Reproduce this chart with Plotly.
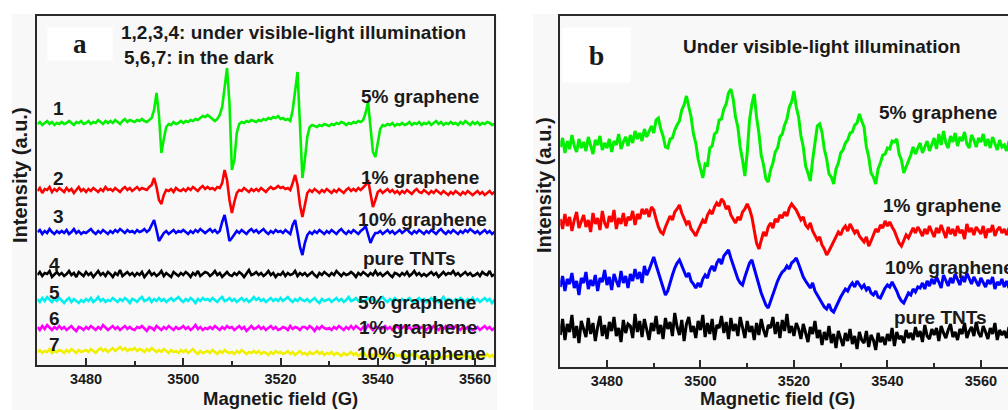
import plotly.graph_objects as go

# ---------------- data (EPR spectra, intensity in a.u.) ----------------
FIELD_START = 3470.0   # G
FIELD_STEP = 0.5       # G per sample

# Panel a  (1-4 under visible light, 5-7 in the dark)
a1_green_5pct = [
    241,243,240,242,244,241,243,240,242,241,
    243,241,242,244,242,240,243,242,244,241,
    242,244,241,243,242,245,243,241,244,242,
    244,242,245,243,241,244,246,243,245,244,
    243,245,244,246,244,243,245,247,255,272,
    250,212,226,238,241,240,243,241,242,244,
    242,244,243,245,244,246,245,247,249,248,
    250,248,246,244,246,250,258,275,297,262,
    195,205,232,241,243,242,244,243,245,244,
    243,245,244,246,245,247,246,248,247,249,
    246,247,245,246,244,255,275,293,240,187,
    205,228,238,240,239,238,240,239,241,240,
    239,241,240,242,241,243,242,240,242,241,
    243,242,244,243,245,252,263,238,213,208,
    222,236,240,239,241,240,242,239,241,240,
    242,240,241,243,240,242,241,243,240,242,
    241,243,240,242,244,241,243,240,242,241,
    243,241,242,240,243,241,244,242,240,243,
    241,243,240,242,241,243,242,240,241,243,
    242,240,243,241,242,240,241,243,242,240,
]
a2_red_1pct = [
    174,177,172,176,175,178,173,176,174,177,
    175,173,177,174,176,172,175,178,174,176,
    173,176,174,177,175,173,176,174,178,175,
    176,174,177,175,173,176,178,175,177,174,
    176,178,175,177,176,175,178,180,187,178,
    165,161,170,175,174,176,173,177,175,174,
    176,174,177,175,178,176,174,177,179,176,
    178,176,177,175,178,177,182,195,185,165,
    152,163,172,175,174,177,175,173,176,174,
    176,174,177,175,173,176,178,176,177,179,
    177,178,176,177,175,182,190,180,160,148,
    160,172,175,173,176,174,172,175,173,176,
    174,172,175,173,176,174,172,175,177,174,
    176,174,177,175,178,180,185,172,158,165,
    173,175,172,174,176,173,175,172,174,171,
    174,172,175,173,171,174,176,173,172,175,
    173,171,174,172,175,173,171,174,172,170,
    173,171,174,172,170,173,171,174,172,170,
    172,174,171,173,170,172,174,171,173,170,
    172,170,173,171,174,172,170,173,171,172,
]
a3_blue_10pct = [
    133,135,131,134,132,136,133,131,134,132,
    134,132,135,131,133,136,132,134,131,133,
    132,134,136,133,131,134,132,135,133,131,
    134,132,135,133,136,134,132,135,133,134,
    132,135,133,134,136,133,135,140,145,135,
    124,128,132,134,131,133,135,132,134,133,
    135,133,131,134,132,135,133,136,134,132,
    134,136,133,135,132,134,143,150,138,124,
    127,131,134,132,135,133,131,134,136,133,
    135,132,134,136,133,131,134,132,135,133,
    134,132,135,133,131,140,145,132,118,110,
    122,130,133,131,134,132,135,133,131,134,
    132,135,133,131,134,136,133,131,134,132,
    135,133,131,134,136,139,131,122,128,132,
    132,134,131,133,135,132,134,131,133,135,
    132,134,136,133,131,134,132,135,133,131,
    134,132,135,133,131,134,136,133,131,134,
    132,135,133,131,134,132,135,133,136,134,
    132,134,131,133,135,132,134,131,133,132,
    134,132,135,133,131,134,132,133,135,132,
]
a4_black_pure = [
    90,93,89,92,91,94,88,91,93,90,
    92,89,91,94,90,92,88,93,91,89,
    93,90,92,88,91,94,90,92,89,93,
    91,88,92,90,95,89,91,93,90,92,
    89,92,90,93,88,91,94,90,92,89,
    91,94,89,92,90,88,93,91,89,92,
    90,93,91,88,92,90,94,89,91,93,
    92,89,91,94,90,92,88,91,93,90,
    89,92,90,93,91,88,92,95,90,91,
    93,90,92,89,91,94,90,92,88,91,
    90,93,89,92,90,91,94,89,92,90,
    92,89,91,93,90,88,92,90,93,91,
    89,92,90,94,91,89,92,90,91,93,
    91,88,92,90,93,91,89,92,90,94,
    90,92,89,91,93,90,88,92,91,89,
    92,90,93,89,91,94,90,92,89,91,
    89,91,93,90,92,88,91,93,90,92,
    91,94,90,92,89,91,93,90,92,89,
    90,92,89,93,91,90,94,89,91,92,
    91,89,92,90,93,91,89,92,90,91,
]
a5_cyan_5pct_dark = [
    66,63,67,64,68,65,63,66,64,67,
    64,62,65,67,63,66,64,62,65,63,
    66,64,67,63,65,68,64,66,63,65,
    64,67,65,63,66,64,67,65,62,66,
    65,63,66,68,64,65,67,63,66,64,
    67,64,66,63,65,67,64,66,68,65,
    63,66,64,67,65,62,66,64,67,65,
    66,64,67,65,63,66,68,64,65,67,
    64,66,63,65,67,64,66,63,65,68,
    65,67,64,66,63,65,67,64,66,64,
    67,64,66,68,65,63,66,64,67,65,
    64,66,63,65,67,64,62,66,64,65,
    66,63,65,67,64,66,63,65,68,64,
    65,67,64,66,63,65,67,64,66,63,
    64,66,68,65,63,66,64,67,65,63,
    66,64,65,67,64,62,65,67,64,66,
    63,65,67,64,66,63,65,68,64,66,
    65,63,66,64,67,65,63,66,64,67,
    64,66,63,65,67,64,66,62,65,63,
    66,64,67,63,65,67,64,66,63,65,
]
a6_magenta_1pct_dark = [
    38,35,39,36,40,37,35,38,36,39,
    36,38,35,37,39,36,34,38,37,35,
    38,36,39,37,35,38,36,40,37,35,
    37,39,36,38,35,37,39,36,38,36,
    35,38,37,39,36,34,38,37,35,39,
    37,35,38,36,39,37,35,38,36,37,
    39,36,38,35,37,40,36,38,35,37,
    36,38,36,39,37,35,38,36,39,37,
    38,35,37,39,36,38,34,37,39,36,
    37,39,36,38,35,37,39,36,38,35,
    36,38,37,35,39,36,38,37,35,38,
    38,36,39,37,34,38,36,39,37,36,
    37,35,38,36,39,37,35,38,36,39,
    36,39,37,35,38,36,40,37,35,38,
    38,36,37,39,36,38,35,37,39,36,
    37,39,36,38,35,37,39,36,38,37,
    35,38,36,39,37,35,38,36,39,37,
    38,36,39,37,35,38,36,38,37,35,
    36,38,35,37,39,36,38,35,37,36,
    37,35,38,36,39,37,35,38,36,37,
]
a7_yellow_10pct_dark = [
    13,15,12,14,13,16,12,14,13,15,
    14,12,15,13,16,14,12,15,13,14,
    15,13,16,14,12,15,17,14,16,13,
    15,17,14,16,18,15,17,14,16,15,
    17,14,16,15,13,16,14,17,15,13,
    15,13,16,14,12,15,13,14,12,15,
    13,15,12,14,16,13,11,14,12,13,
    14,12,15,13,11,14,12,15,13,12,
    13,11,14,12,15,13,11,13,12,14,
    12,14,11,13,12,10,13,11,14,12,
    13,11,12,14,11,13,10,12,14,11,
    12,10,13,11,12,14,11,13,10,12,
    11,13,10,12,11,9,12,10,11,13,
    10,12,9,11,13,10,8,11,9,12,
    10,8,11,9,7,10,8,11,9,10,
    8,10,7,9,11,8,10,7,9,8,
    9,7,10,8,11,9,7,10,8,9,
    8,10,9,7,10,8,11,9,7,10,
    9,7,10,8,9,11,8,10,7,9,
    8,10,9,11,8,10,7,9,8,10,
]

# Panel b  (under visible light)
b1_green_5pct = [
    220,229,214,226,218,232,221,215,228,219,
    225,216,230,220,213,227,222,231,217,224,
    219,228,215,226,222,233,218,225,230,221,
    232,224,236,228,234,226,238,230,236,241,
    234,247,249,238,231,220,219,228,229,237,
    242,246,257,262,271,259,250,233,224,208,
    198,189,203,202,219,221,233,235,247,248,
    258,263,274,278,268,250,240,220,207,191,
    214,247,263,273,250,234,212,202,188,185,
    197,204,215,219,230,233,242,248,260,265,
    276,260,250,231,220,201,194,186,207,226,
    241,243,235,218,208,193,190,183,198,204,
    214,217,224,227,234,235,242,244,253,246,
    240,220,210,194,190,183,198,204,212,213,
    219,218,226,225,228,213,207,194,200,205,
    212,220,213,219,224,214,221,226,216,223,
    229,218,233,222,236,224,219,231,225,234,
    221,230,226,235,223,219,232,227,220,229,
    225,233,221,228,219,230,224,217,227,220,
    222,216,226,219,224,218,223,220,225,221,
]
b2_red_1pct = [
    148,138,153,141,150,136,147,155,139,146,
    152,140,147,135,154,143,149,137,156,144,
    139,151,145,157,138,149,143,154,141,150,
    147,156,142,153,148,158,153,158,150,160,
    157,148,140,135,133,140,146,151,147,155,
    158,162,154,149,143,146,138,135,131,137,
    142,147,144,152,156,153,160,164,161,168,
    165,158,161,152,148,144,150,147,155,158,
    163,158,150,138,124,118,128,135,131,140,
    144,139,148,145,152,149,155,151,159,163,
    160,157,152,147,150,142,139,144,136,131,
    127,130,122,118,112,116,121,126,130,135,
    132,138,141,136,143,139,134,137,131,128,
    125,130,121,126,133,138,135,142,139,146,
    141,145,140,136,130,124,121,127,132,129,
    135,139,134,140,136,131,138,133,141,135,
    130,139,134,142,136,129,140,133,138,131,
    141,134,137,128,143,135,139,132,140,136,
    133,141,129,138,135,142,131,137,140,134,
    138,132,139,135,131,137,134,140,133,136,
]
b3_blue_10pct = [
    80,91,76,88,83,94,79,86,72,89,
    84,95,78,87,81,92,76,89,85,97,
    82,90,77,93,86,80,96,84,91,79,
    93,86,98,88,95,84,101,92,97,104,
    110,102,94,86,78,72,76,85,92,99,
    104,107,101,96,90,94,86,83,79,84,
    80,88,92,89,97,101,96,104,108,103,
    111,114,117,109,102,94,88,84,82,90,
    98,104,107,99,90,81,74,68,62,59,
    66,74,80,86,91,95,97,101,98,104,
    106,109,103,96,90,86,82,79,84,76,
    72,68,64,60,58,63,57,55,60,66,
    70,74,78,76,81,84,80,86,83,79,
    82,77,80,74,72,76,70,69,74,79,
    82,80,85,81,76,70,66,64,70,74,
    72,78,75,80,79,84,78,86,81,88,
    83,90,85,79,92,86,81,89,84,93,
    87,82,91,85,94,88,83,90,86,81,
    89,84,80,87,83,90,78,85,82,88,
    80,86,79,84,88,81,85,79,83,86,
]
b4_black_pure = [
    32,48,27,43,35,52,29,41,24,46,
    38,30,49,33,44,26,40,51,31,42,
    28,45,36,50,31,39,25,47,34,43,
    41,29,53,35,46,30,48,37,27,44,
    36,51,33,42,28,49,38,45,31,54,
    40,32,47,26,43,50,35,41,29,46,
    37,52,30,44,33,48,27,42,39,51,
    34,45,28,49,36,43,31,50,38,29,
    46,35,41,27,44,32,48,37,30,42,
    39,50,33,45,29,47,36,53,34,41,
    31,44,38,28,43,35,25,40,33,46,
    29,37,22,35,27,41,24,33,19,36,
    28,21,34,26,38,23,31,18,35,27,
    24,36,20,32,27,17,34,25,30,22,
    33,26,39,21,35,28,31,24,37,29,
    34,27,40,30,36,25,42,31,28,38,
    32,39,26,41,34,29,37,43,30,35,
    27,38,33,44,29,36,40,31,45,34,
    30,41,35,28,39,33,44,27,37,32,
    36,29,40,34,31,38,33,42,30,35,
]

A_TRACES = [
    (a1_green_5pct, "#00f000"), (a2_red_1pct, "#ff0000"), (a3_blue_10pct, "#0000ff"),
    (a4_black_pure, "#000000"), (a5_cyan_5pct_dark, "#00f0f0"),
    (a6_magenta_1pct_dark, "#ff00ff"), (a7_yellow_10pct_dark, "#f0f000"),
]
B_TRACES = [
    (b1_green_5pct, "#00f000"), (b2_red_1pct, "#ff0000"),
    (b3_blue_10pct, "#0000ff"), (b4_black_pure, "#000000"),
]
TICK_VALS = [3480, 3500, 3520, 3540, 3560]
TICK_TEXT = ["3480", "3500", "3520", "3540", "3560"]


def field(vals):
    return [FIELD_START + FIELD_STEP * i for i in range(len(vals))]


# ---------------- figure ----------------
W, H = 1008, 410
FONT = "Liberation Sans, Arial, sans-serif"
fig = go.Figure()

for vals, col in A_TRACES:
    fig.add_trace(go.Scatter(x=field(vals), y=vals, mode="lines", xaxis="x", yaxis="y",
                             line=dict(color=col, width=2.6), showlegend=False, hoverinfo="skip"))
for vals, col in B_TRACES:
    fig.add_trace(go.Scatter(x=field(vals), y=vals, mode="lines", xaxis="x2", yaxis="y2",
                             line=dict(color=col, width=3), showlegend=False, hoverinfo="skip"))


def px(x):
    return x / W


def py(y):
    return 1 - y / H


axis_common = dict(showgrid=False, zeroline=False, linecolor="#2a2a2a", linewidth=1.5)
xcommon = dict(axis_common, ticks="inside", ticklen=7, tickwidth=1.5, tickcolor="#2a2a2a",
               tickvals=TICK_VALS, ticktext=TICK_TEXT, showline=True, mirror=True,
               tickfont=dict(family=FONT, size=14.5, color="#1a1a1a", weight="bold"),
               minor=dict(tickvals=[3490, 3510, 3530, 3550], ticks="inside", ticklen=4,
                          tickwidth=1.5, tickcolor="#2a2a2a"))

fig.update_layout(
    width=W, height=H, margin=dict(l=0, r=0, t=0, b=0),
    paper_bgcolor="#ffffff", plot_bgcolor="#f8f8f8",
    xaxis=dict(xcommon, domain=[px(37.4), px(494)], range=[3470, 3563.9], anchor="y"),
    yaxis=dict(axis_common, domain=[py(365), py(16)], range=[0, 349], showline=True,
               mirror=True, showticklabels=False, ticks="", anchor="x"),
    xaxis2=dict(xcommon, domain=[px(560.25), 1.0], range=[3470, 3565.8], anchor="y2"),
    yaxis2=dict(axis_common, domain=[py(367), py(16)], range=[0, 351], showline=True,
                mirror=False, showticklabels=False, ticks="", anchor="x2"),
    shapes=[
        dict(type="rect", xref="paper", yref="paper", x0=px(12), x1=px(497), y0=0, y1=py(14),
             fillcolor="#f8f8f8", line=dict(width=0), layer="below"),
        dict(type="rect", xref="paper", yref="paper", x0=px(533), x1=1.0, y0=0, y1=py(14),
             fillcolor="#f8f8f8", line=dict(width=0), layer="below"),
    ],
)

ann = []


def text(x, y, s, size=19, anchor="left", angle=0, family=FONT, **kw):
    ann.append(dict(x=px(x), y=py(y), xref="paper", yref="paper", text=s, showarrow=False,
                    xanchor=anchor, yanchor="middle", textangle=angle,
                    font=dict(family=family, size=size, color="#1a1a1a", weight="bold"), **kw))


# panel letters in white boxes
text(80, 44, "a", size=27, anchor="center", family="Liberation Serif, Times New Roman, serif",
     bgcolor="#ffffff", width=64, height=32, borderpad=0)
text(596, 55, "b", size=28, anchor="center", family="Liberation Serif, Times New Roman, serif",
     bgcolor="#ffffff", width=67, height=54, borderpad=0)

# panel a texts
text(119, 33, "1,2,3,4: under visible-light illumination")
text(122, 57, "5,6,7: in the dark")
for lbl, (xx, yy) in zip(["1", "2", "3", "4", "5", "6", "7"],
                         [(51, 108), (51, 179), (51, 216), (47, 264), (47, 292), (47, 318), (47, 344)]):
    text(xx, yy, lbl, size=19)
for lbl, (xx, yy) in zip(["5% graphene", "1% graphene", "10% graphene", "pure TNTs",
                          "5% graphene", "1% graphene", "10% graphene"],
                         [(359, 96), (359, 178), (356, 219), (361, 258), (356, 302), (357, 327), (355, 353)]):
    text(xx, yy, lbl, size=19)

# panel b texts (the last label runs past the right edge, as in the original)
text(822, 47, "Under visible-light illumination", anchor="center")
for lbl, (xx, yy) in zip(["5% graphene", "1% graphene", "10% graphene", "pure TNTs"],
                         [(877, 112), (881, 205), (883, 267), (892, 317)]):
    text(xx, yy, lbl, size=19)

# axis titles
text(280, 398, "Magnetic field (G)", size=18.5, anchor="center")
text(777, 398, "Magnetic field (G)", size=18.5, anchor="center")
text(20, 175, "Intensity (a.u.)", size=20, anchor="center", angle=-90)
text(544, 185, "Intensity (a.u.)", size=20, anchor="center", angle=-90)

fig.update_layout(annotations=ann)
fig.write_html(
    "out.html",
    config={"displayModeBar": False},
    post_script="document.body.style.margin='0px'; document.body.style.overflow='hidden';",
)
